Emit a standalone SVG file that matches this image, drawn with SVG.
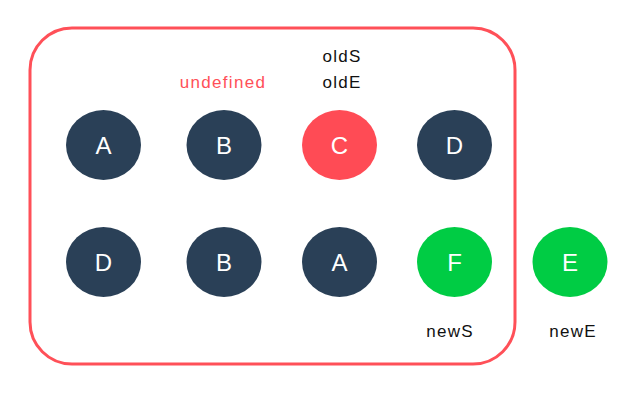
<svg xmlns="http://www.w3.org/2000/svg" width="631" height="410" viewBox="0 0 631 410">
<style>
.n{fill:#2a4057}
.r{fill:#ff4b55}
.g{fill:#00cc44}
.l{font-family:"Liberation Sans",Arial,sans-serif;font-size:24px;fill:#fff;text-anchor:middle;dominant-baseline:central}
.t{font-family:"Liberation Sans",Arial,sans-serif;font-size:17px;letter-spacing:1.3px;fill:#111;text-anchor:middle}
</style>
<rect x="30" y="28" width="485" height="336" rx="42" ry="42" fill="none" stroke="#ff5058" stroke-width="3"/>
<g id="connectors"></g>
<g id="nA1"><ellipse class="n" cx="103.5" cy="145" rx="37.5" ry="35"/><text class="l" x="103.5" y="145">A</text></g>
<g id="nB1"><ellipse class="n" cx="224" cy="145" rx="37.5" ry="35"/><text class="l" x="224" y="145">B</text></g>
<g id="nC1"><ellipse class="r" cx="339.5" cy="145" rx="37.5" ry="35"/><text class="l" x="339.5" y="145">C</text></g>
<g id="nD1"><ellipse class="n" cx="454.5" cy="145" rx="37.5" ry="35"/><text class="l" x="454.5" y="145">D</text></g>
<g id="nD2"><ellipse class="n" cx="103.5" cy="262" rx="37.5" ry="35"/><text class="l" x="103.5" y="262">D</text></g>
<g id="nB2"><ellipse class="n" cx="224" cy="262" rx="37.5" ry="35"/><text class="l" x="224" y="262">B</text></g>
<g id="nA2"><ellipse class="n" cx="339.5" cy="262" rx="37.5" ry="35"/><text class="l" x="339.5" y="262">A</text></g>
<g id="nF2"><ellipse class="g" cx="454.5" cy="262" rx="37.5" ry="35"/><text class="l" x="454.5" y="262">F</text></g>
<g id="nE2"><ellipse class="g" cx="570" cy="262" rx="37.5" ry="35"/><text class="l" x="570" y="262">E</text></g>
<text class="t" x="223" y="88" style="fill:#ff5058">undefined</text>
<text class="t" x="342" y="62">oldS</text>
<text class="t" x="342" y="88">oldE</text>
<text class="t" x="450" y="337">newS</text>
<text class="t" x="573" y="337">newE</text>
</svg>
